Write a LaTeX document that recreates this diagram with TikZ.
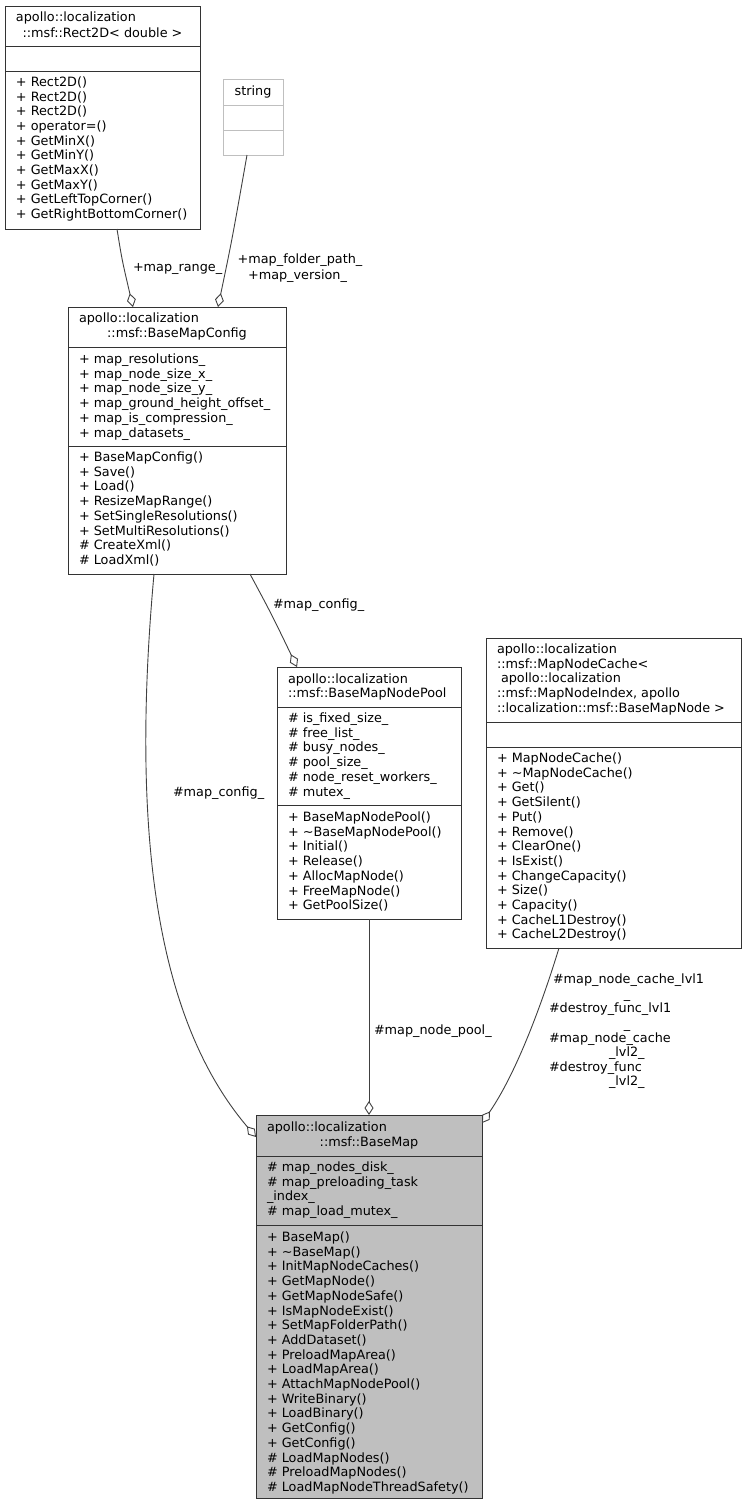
\documentclass[tikz,border=0pt]{standalone}
\usepackage{fontspec}
\setmainfont{DejaVu Sans}
\usetikzlibrary{arrows.meta,calc}
\definecolor{edgegray}{HTML}{404040}
\definecolor{boxgray}{HTML}{BFBFBF}
\definecolor{linegray}{HTML}{333333}
\begin{document}
\begin{tikzpicture}[x=1pt,y=-1pt,
  every node/.style={inner sep=0pt,outer sep=0pt,font=\fontsize{12.8}{14.7}\selectfont},
  classbox/.style={draw=linegray,line width=1pt,fill=white,anchor=north west},
  ln/.style={anchor=base west},
  lc/.style={anchor=base},
  divline/.style={draw=linegray,line width=1pt},
  agg/.style={draw=edgegray,line width=0.9pt,-{Diamond[open,length=14pt,width=9pt]}}
]
\useasboundingbox (0,0) rectangle (746,1505);

% ---------- Rect2D ----------
\node[classbox,minimum width=195pt,minimum height=223pt] (rect) at (5,6) {};
\draw[divline] (5,46) -- (200,46);
\draw[divline] (5,71) -- (200,71);
\node[ln] (r2t1) at (16,21.5) {apollo::localization};
\node[lc] (r2t2) at (102.5,37.5) {::msf::Rect2D< double >};
\foreach \mem [count=\i] in {Rect2D(),Rect2D(),Rect2D(),operator=(),GetMinX(),GetMinY(),GetMaxX(),GetMaxY(),GetLeftTopCorner(),GetRightBottomCorner()}
  \node[ln] (r2m\i) at (16,{86.5+(\i-1)*14.67}) {+ \mem};

% ---------- string ----------
\node[classbox,draw=boxgray,minimum width=60pt,minimum height=76pt] (str) at (223,79) {};
\draw[divline,draw=boxgray] (223,105) -- (283,105);
\draw[divline,draw=boxgray] (223,130) -- (283,130);
\node[lc] (strt) at (253,95.5) {string};

% ---------- BaseMapConfig ----------
\node[classbox,minimum width=218pt,minimum height=267pt] (cfg) at (68,307) {};
\draw[divline] (68,347) -- (286,347);
\draw[divline] (68,446) -- (286,446);
\node[ln] (cfgt1) at (79,322.5) {apollo::localization};
\node[lc] (cfgt2) at (177,337.5) {::msf::BaseMapConfig};
\foreach \mem [count=\i] in {map\_resolutions\_,map\_node\_size\_x\_,map\_node\_size\_y\_,map\_ground\_height\_offset\_,map\_is\_compression\_,map\_datasets\_}
  \node[ln] (cfga\i) at (79,{363.5+(\i-1)*14.7}) {+ \mem};
\foreach \mem [count=\i] in {+ BaseMapConfig(),+ Save(),+ Load(),+ ResizeMapRange(),+ SetSingleResolutions(),+ SetMultiResolutions(),\# CreateXml(),\# LoadXml()}
  \node[ln] (cfgm\i) at (79,{461.5+(\i-1)*14.7}) {\mem};

% ---------- BaseMapNodePool ----------
\node[classbox,minimum width=184pt,minimum height=252pt] (pool) at (277,667) {};
\draw[divline] (277,707) -- (461,707);
\draw[divline] (277,805) -- (461,805);
\node[ln] (poolt1) at (288,683.5) {apollo::localization};
\node[ln] (poolt2) at (288,697.5) {::msf::BaseMapNodePool};
\foreach \mem [count=\i] in {is\_fixed\_size\_,free\_list\_,busy\_nodes\_,pool\_size\_,node\_reset\_workers\_,mutex\_}
  \node[ln] (poola\i) at (288,{722.5+(\i-1)*14.7}) {\# \mem};
\foreach \mem [count=\i] in {BaseMapNodePool(),\textasciitilde BaseMapNodePool(),Initial(),Release(),AllocMapNode(),FreeMapNode(),GetPoolSize()}
  \node[ln] (poolm\i) at (288,{821.5+(\i-1)*14.7}) {+ \mem};

% ---------- MapNodeCache ----------
\node[classbox,minimum width=255pt,minimum height=310pt] (cache) at (486,638) {};
\draw[divline] (486,722) -- (741,722);
\draw[divline] (486,747) -- (741,747);
\node[ln] (cacht1) at (497,653.5) {apollo::localization};
\node[ln] (cacht2) at (497,668.2) {::msf::MapNodeCache<};
\node[ln] (cacht3) at (501,682.9) {apollo::localization};
\node[ln] (cacht4) at (497,697.6) {::msf::MapNodeIndex, apollo};
\node[ln] (cacht5) at (497,712.3) {::localization::msf::BaseMapNode >};
\foreach \mem [count=\i] in {MapNodeCache(),\textasciitilde MapNodeCache(),Get(),GetSilent(),Put(),Remove(),ClearOne(),IsExist(),ChangeCapacity(),Size(),Capacity(),CacheL1Destroy(),CacheL2Destroy()}
  \node[ln] (cachm\i) at (497,{762.5+(\i-1)*14.7}) {+ \mem};

% ---------- BaseMap ----------
\node[classbox,fill=boxgray,minimum width=226pt,minimum height=383pt] (bmap) at (256,1115) {};
\draw[divline] (256,1156) -- (482,1156);
\draw[divline] (256,1225) -- (482,1225);
\node[ln] (bmapt1) at (267,1131.5) {apollo::localization};
\node[lc] (bmapt2) at (369,1146.5) {::msf::BaseMap};
\foreach \mem [count=\i] in {\# map\_nodes\_disk\_,\# map\_preloading\_task,\_index\_,\# map\_load\_mutex\_}
  \node[ln] (bmapa\i) at (267,{1171.5+(\i-1)*14.7}) {\mem};
\foreach \mem [count=\i] in {+ BaseMap(),+ \textasciitilde BaseMap(),+ InitMapNodeCaches(),+ GetMapNode(),+ GetMapNodeSafe(),+ IsMapNodeExist(),+ SetMapFolderPath(),+ AddDataset(),+ PreloadMapArea(),+ LoadMapArea(),+ AttachMapNodePool(),+ WriteBinary(),+ LoadBinary(),+ GetConfig(),+ GetConfig(),\# LoadMapNodes(),\# PreloadMapNodes(),\# LoadMapNodeThreadSafety()}
  \node[ln] (bmapm\i) at (267,{1241.5+(\i-1)*14.7}) {\mem};

% ---------- connectors ----------
\draw[agg] ($(rect.south west)+(112,0)$) .. controls (122,260) .. ($(cfg.north west)+(65,0)$);
\draw[agg] ($(str.south west)+(24,0)$) .. controls (232,240) .. ($(cfg.north west)+(150,0)$);
\draw[agg] ($(cfg.south west)+(182,0)$) .. controls (272,615) .. ($(pool.north west)+(20,0)$);
\draw[agg] ($(cfg.south west)+(86,0)$) .. controls (128,860) and (165,1030) .. ($(bmap.north west)+(0,22)$);
\draw[agg] (pool.south) -- (bmap.north);
\draw[agg] ($(cache.south west)+(73,0)$) .. controls (540,1010) and (515,1075) .. ($(bmap.north east)+(0,8)$);

% ---------- connector labels ----------
\node[ln] (lrange) at (133,271.5) {+map\_range\_};
\node[lc] (lfolder) at (300,263.5) {+map\_folder\_path\_};
\node[lc] (lversion) at (297.5,279.5) {+map\_version\_};
\node[ln] (lcfg1) at (273,608.5) {\#map\_config\_};
\node[ln] (lcfg2) at (173,796.5) {\#map\_config\_};
\node[ln] (lpool) at (374,1034.5) {\#map\_node\_pool\_};
\node[ln] (lc1) at (553,983.5) {\#map\_node\_cache\_lvl1};
\node[lc] (lu1) at (627,998) {\_};
\node[ln] (lc2) at (549,1012.5) {\#destroy\_func\_lvl1};
\node[lc] (lu2) at (627,1028) {\_};
\node[ln] (lc3) at (549,1042.5) {\#map\_node\_cache};
\node[ln] (lc4) at (609,1056.5) {\_lvl2\_};
\node[ln] (lc5) at (549,1071.5) {\#destroy\_func};
\node[ln] (lc6) at (609,1085.5) {\_lvl2\_};
\end{tikzpicture}
\end{document}
